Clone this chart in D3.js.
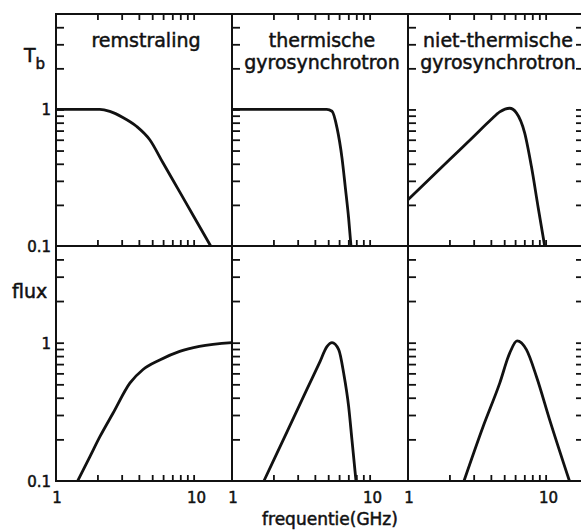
<!doctype html>
<html lang="nl">
<head>
<meta charset="UTF-8">
<title>Tb en flux spectra</title>
<script src="https://cdn.jsdelivr.net/npm/d3@7"></script>
<style>
    body{ margin:0; background:#fff; }
    svg{ display:block; font-family:"DejaVu Sans", sans-serif; }
    .frame{ fill:none; stroke:#111; stroke-width:2px; }
    .curve{ fill:none; stroke:#111; stroke-width:2.8px; stroke-linejoin:round; }
    .tick line{ stroke:#111; stroke-width:1.8px; }
    .domain{ display:none; }
    .lbl{ fill:#111; stroke:#111; stroke-width:0.5px; }
</style>
</head>
<body>
<svg width="581" height="531"></svg>
<script>
    // panel titles (one array per panel, lines of text)
    let titles = [["remstraling"], ["thermische", "gyrosynchrotron"], ["niet-thermische", "gyrosynchrotron"]];

    // brightness temperature curves [frequency GHz, Tb]
    let remTb = [[1,1],[2.08,1],[2.46,0.967],[3.06,0.873],[3.86,0.75],[4.8,0.6],[6,0.405],[7.92,0.249],[10,0.165],[13.3,0.1]];
    let thermTb = [[1,1],[4.88,1],[5.33,0.97],[5.8,0.73],[6.3,0.44],[6.67,0.264],[7.04,0.159],[7.32,0.1]];
    let nonthermTb = [[1,0.218],[2,0.428],[3,0.634],[4,0.84],[4.64,0.96],[5.48,1.02],[6.13,0.945],[7.04,0.674],[7.88,0.383],[8.8,0.195],[9.84,0.1]];

    // flux curves [frequency GHz, flux]
    let remFlux = [[1.436,0.1],[1.764,0.15],[2.084,0.209],[2.6,0.31],[3.44,0.51],[4.29,0.64],[5.67,0.75],[7.92,0.865],[11,0.94],[19,1]];
    let thermFlux = [[1.705,0.1],[2.5,0.225],[3.5,0.459],[4.3,0.708],[4.91,0.94],[5.33,1.0],[5.96,0.89],[6.48,0.6],[7.04,0.345],[7.44,0.198],[7.96,0.1]];
    let nonthermFlux = [[2.55,0.1],[3.51,0.247],[4.64,0.51],[5.48,0.84],[6.2,1.03],[7.25,0.89],[8.57,0.57],[10.7,0.277],[14.9,0.1]];

    let tbSeries = [remTb, thermTb, nonthermTb];
    let fluxSeries = [remFlux, thermFlux, nonthermFlux];

    let xTicks = [2,3,4,5,6,7,8,9,10];
    let yTicks = [0.2,0.3,0.4,0.5,0.6,0.7,0.8,0.9,1,2,3,4];
    let xLabels = [1, 10];
    let yLabels = [0.1, 1];

    let svg = d3.select("svg");

    let panelW = 176;
    let panelLeft = [56, 56 + panelW, 56 + 2 * panelW];
    let rows = [{top:14, bottom:246}, {top:246, bottom:481}];

    let yTop = d3.scaleLog().domain([0.1, 5]).range([rows[0].bottom, rows[0].top]);
    let yBot = d3.scaleLog().domain([0.1, 5]).range([rows[1].bottom, rows[1].top]);
    let yScales = [yTop, yBot];

    panelLeft.forEach((left, p) => {
        let x = d3.scaleLog().domain([1, 19]).range([left, left + panelW]);

        yScales.forEach((y, r) => {
            let row = rows[r];
            let g = svg.append("g");

            // curve
            let data = r === 0 ? tbSeries[p] : fluxSeries[p];
            let line = d3.line()
                .x(d => x(d[0]))
                .y(d => y(d[1]))
                .curve(d3.curveMonotoneX);
            g.append("path").attr("class", "curve").attr("d", line(data));

            // left ticks pointing inward
            g.append("g")
                .attr("transform", `translate(${left},0)`)
                .call(d3.axisRight(y).tickValues(yTicks).tickSize(8).tickFormat(""));

            // last panel also gets ticks on its right side
            if (p === panelLeft.length - 1) {
                g.append("g")
                    .attr("transform", `translate(${left + panelW},0)`)
                    .call(d3.axisLeft(y).tickValues(yTicks).tickSize(8).tickFormat(""));
            }

            // top edge ticks only on top row
            if (r === 0) {
                g.append("g")
                    .attr("transform", `translate(0,${row.top})`)
                    .call(d3.axisBottom(x).tickValues(xTicks).tickSize(6).tickFormat(""));
            }
            // bottom edge ticks pointing up
            g.append("g")
                .attr("transform", `translate(0,${row.bottom})`)
                .call(d3.axisTop(x).tickValues(xTicks).tickSize(6).tickFormat(""));

            // frame
            g.append("rect").attr("class", "frame")
                .attr("x", left).attr("y", row.top)
                .attr("width", panelW).attr("height", row.bottom - row.top);

            // y labels only on the first panel
            if (p === 0) {
                g.selectAll(".ylab").data(yLabels).enter().append("text")
                    .attr("class", "lbl")
                    .attr("x", left - 5)
                    .attr("y", d => y(d) + 6)
                    .attr("text-anchor", "end")
                    .style("font-size", "15px")
                    .text(d => d === 0.1 ? "0.1" : "1");
            }
        });

        // x labels under the bottom row
        svg.selectAll(".xlab" + p).data(xLabels).enter().append("text")
            .attr("class", "lbl")
            .attr("x", d => x(d) + (d === 10 ? 3 : 1))
            .attr("y", 503)
            .attr("text-anchor", "middle")
            .style("font-size", "15px")
            .text(d => d);

        // panel titles
        let cx = left + panelW / 2;
        titles[p].forEach((t, i) => {
            svg.append("text").attr("class", "lbl")
                .attr("x", cx + 2)
                .attr("y", 47 + i * 22)
                .attr("text-anchor", "middle")
                .style("font-size", "19px")
                .text(t);
        });
    });

    // axis titles
    let tb = svg.append("text").attr("class", "lbl")
        .attr("x", 24).attr("y", 62).style("font-size", "19px");
    tb.append("tspan").text("T");
    tb.append("tspan").attr("dy", 7).style("font-size", "15px").text("b");

    svg.append("text").attr("class", "lbl")
        .attr("x", 12).attr("y", 298).style("font-size", "19px").text("flux");

    svg.append("text").attr("class", "lbl")
        .attr("x", 330).attr("y", 525).attr("text-anchor", "middle")
        .style("font-size", "17px").text("frequentie(GHz)");
</script>
</body>
</html>
